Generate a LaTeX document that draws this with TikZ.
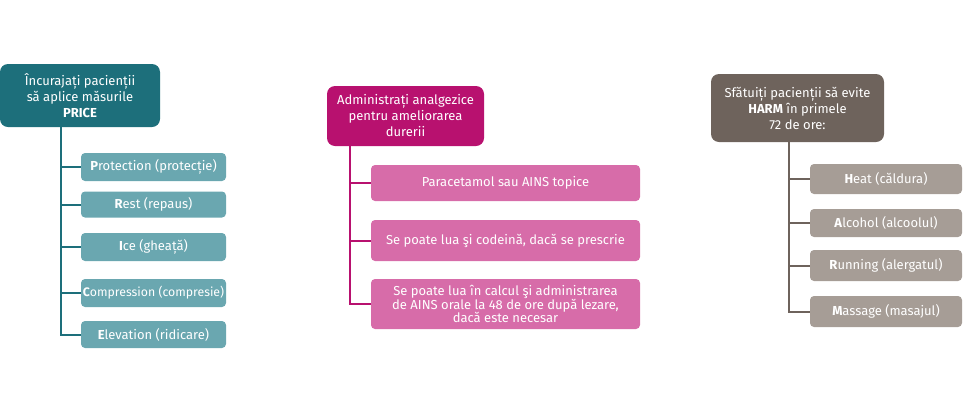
\documentclass[tikz,border=0pt]{standalone}
\usepackage{fontspec}
\setmainfont{Fira Sans}
\usetikzlibrary{positioning}

\definecolor{tealdark}{HTML}{1D6F7B}
\definecolor{teallight}{HTML}{6AA7B0}
\definecolor{magdark}{HTML}{B8116F}
\definecolor{maglight}{HTML}{D76CA9}
\definecolor{greydark}{HTML}{6E635C}
\definecolor{greylight}{HTML}{A69D96}

\tikzset{
  hdr/.style={rounded corners=8pt, text=white, align=center, inner sep=2pt,
    font=\fontsize{13}{16}\selectfont},
  item/.style={rounded corners=4pt, text=white, align=center, inner xsep=0pt, inner ysep=2pt,
    font=\fontsize{13}{13.5}\selectfont},
  trunk/.style={line width=2pt}
}

\begin{document}
\begin{tikzpicture}[x=1pt,y=-1pt]
\useasboundingbox (0,0) rectangle (970,416);

% PRICE
\node[hdr, fill=tealdark, minimum width=160pt, minimum height=63pt] (hA) at (80,95.5)
  {Încurajați pacienții\\să aplice măsurile\\\textbf{PRICE}};
\node[item, fill=teallight, minimum width=145pt, minimum height=28pt] (a1) at (153.5,167) {\textbf{P}rotection (protecție)};
\node[item, fill=teallight, minimum width=145pt, minimum height=26pt] (a2) at (153.5,204.5) {\textbf{R}est (repaus)};
\node[item, fill=teallight, minimum width=145pt, minimum height=28pt] (a3) at (153.5,247) {\textbf{I}ce (gheață)};
\node[item, fill=teallight, minimum width=145pt, minimum height=28pt,
  font=\fontsize{12.3}{13.5}\selectfont] (a4) at (153.5,293) {\textbf{C}ompression (compresie)};
\node[item, fill=teallight, minimum width=145pt, minimum height=27pt] (a5) at (153.5,334.5) {\textbf{E}levation (ridicare)};
\coordinate (ta) at (61,127);
\draw[trunk, tealdark] (ta) |- (a5.west);
\foreach \i in {1,...,4}
  \draw[trunk, tealdark] (ta |- a\i.west) -- (a\i.west);

% analgezice
\node[hdr, fill=magdark, minimum width=157pt, minimum height=60pt] (hB) at (405.5,116)
  {Administrați analgezice\\pentru ameliorarea\\durerii};
\node[item, fill=maglight, minimum width=269pt, minimum height=36pt] (b1) at (505.5,183) {Paracetamol sau AINS topice};
\node[item, fill=maglight, minimum width=269pt, minimum height=41pt] (b2) at (505.5,240.5) {Se poate lua şi codeină, dacă se prescrie};
\node[item, fill=maglight, minimum width=269pt, minimum height=50pt] (b3) at (505.5,304)
  {Se poate lua în calcul şi administrarea\\de AINS orale la 48 de ore după lezare,\\dacă este necesar};
\coordinate (tb) at (350,146);
\draw[trunk, magdark] (tb) |- (b3.west);
\foreach \i in {1,2}
  \draw[trunk, magdark] (tb |- b\i.west) -- (b\i.west);

% HARM
\node[hdr, fill=greydark, minimum width=173pt, minimum height=68pt] (hC) at (797.5,108)
  {Sfătuiți pacienții să evite\\\textbf{HARM} în primele\\72 de ore:};
\node[item, fill=greylight, minimum width=152pt, minimum height=30pt] (c1) at (886,179) {\textbf{H}eat (căldura)};
\node[item, fill=greylight, minimum width=152pt, minimum height=28pt] (c2) at (886,223) {\textbf{A}lcohol (alcoolul)};
\node[item, fill=greylight, minimum width=152pt, minimum height=31pt] (c3) at (886,265.5) {\textbf{R}unning (alergatul)};
\node[item, fill=greylight, minimum width=152pt, minimum height=31pt] (c4) at (886,311.5) {\textbf{M}assage (masajul)};
\coordinate (tc) at (789,142);
\draw[trunk, greydark] (tc) |- (c4.west);
\foreach \i in {1,...,3}
  \draw[trunk, greydark] (tc |- c\i.west) -- (c\i.west);
\end{tikzpicture}
\end{document}
